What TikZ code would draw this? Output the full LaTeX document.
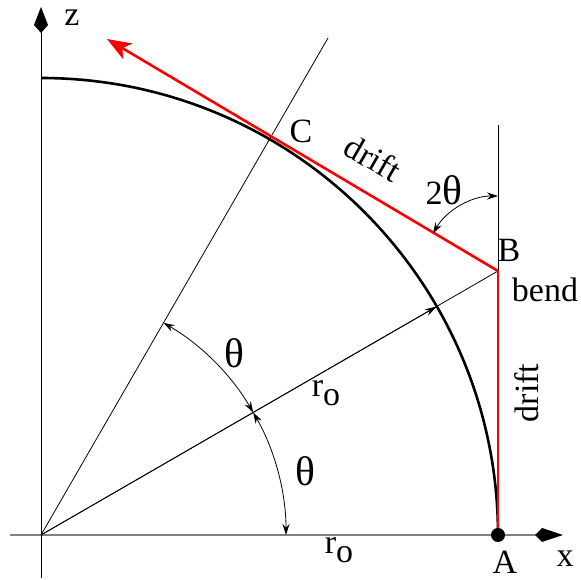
\documentclass[tikz,border=0pt]{standalone}
\usepackage{graphicx}
\usepackage{fontspec}
\setmainfont{Liberation Serif}
\usetikzlibrary{arrows.meta}
\newcommand{\ro}{r\raisebox{-0.28em}{o}}
\newcommand{\thet}{\scalebox{1.22}{θ}}
\begin{document}
\begin{tikzpicture}[x=1pt,y=1pt,
  thinline/.style={black,line width=0.8pt},
  heavy/.style={black,line width=2.6pt},
  redline/.style={red,line width=2.6pt},
  angarrow/.style={thinline,{Stealth[length=11pt,width=7pt]}-{Stealth[length=11pt,width=7pt]}},
  lbl/.style={font=\fontsize{34}{34}\selectfont,inner sep=0pt}]
\useasboundingbox (0,0) rectangle (581,580);
\coordinate (O) at (41,45);
\coordinate (A) at (498,45);
\coordinate (B) at (498,309);
\coordinate (P30) at (436.8,273.5);
\coordinate (L60) at (328,542);
\coordinate (V) at (498,455);
\coordinate (Tip) at (107,541);
\coordinate (Xs) at (10,45);
\coordinate (Xe) at (563,45);
\coordinate (Zs) at (41,2);
\coordinate (Ze) at (41,573);
% axes
\draw[gray,line width=1.8pt,-{Kite[length=28pt,width=14pt,inset=7pt,color=black]}] (Xs) -- (Xe);
\draw[thinline,line width=1pt,-{Kite[length=26pt,width=14pt,inset=8pt]}] (Zs) -- (Ze);
% lines
\draw[thinline] (O) -- (L60);
\draw[thinline] (O) -- (B);
\draw[thinline,-{Stealth[length=12pt,width=7pt]}] (O) -- (P30);
\draw[thinline] (A) -- (V);
% heavy arc
\draw[heavy] (A) arc[start angle=0,end angle=90,radius=457];
% red path
\draw[redline] (A) -- (B);
\draw[redline,-{Stealth[length=24pt,width=18pt,inset=6pt]}] (B) -- (Tip);
\fill (A) circle[radius=7];
% angle arcs
\draw[angarrow] ([shift={(60:245)}]O) arc[start angle=60,end angle=30,radius=245];
\draw[angarrow] ([shift={(30:245)}]O) arc[start angle=30,end angle=0,radius=245];
\draw[angarrow] ([shift={(150:75)}]B) arc[start angle=150,end angle=90,radius=75];
% labels
\node[lbl] (lz) at (72,562) {z};
\node[lbl] (lx) at (565,21) {x};
\node[lbl] (lA) at (505,18) {A};
\node[lbl] (lB) at (509,330) {B};
\node[lbl] (lbend) at (545,290) {bend};
\node[lbl] (lC) at (301,449) {C};
\node[lbl,rotate=-30] (ldrift1) at (373,422) {drift};
\node[lbl,rotate=90] (ldrift2) at (527,187) {drift};
\node[lbl] (l2t) at (444,390) {2\thet};
\node[lbl] (lt1) at (234,227) {\thet};
\node[lbl] (lt2) at (305,109) {\thet};
\node[lbl] (lr1) at (326,187) {\ro};
\node[lbl] (lr2) at (339,30) {\ro};
\end{tikzpicture}
\end{document}
